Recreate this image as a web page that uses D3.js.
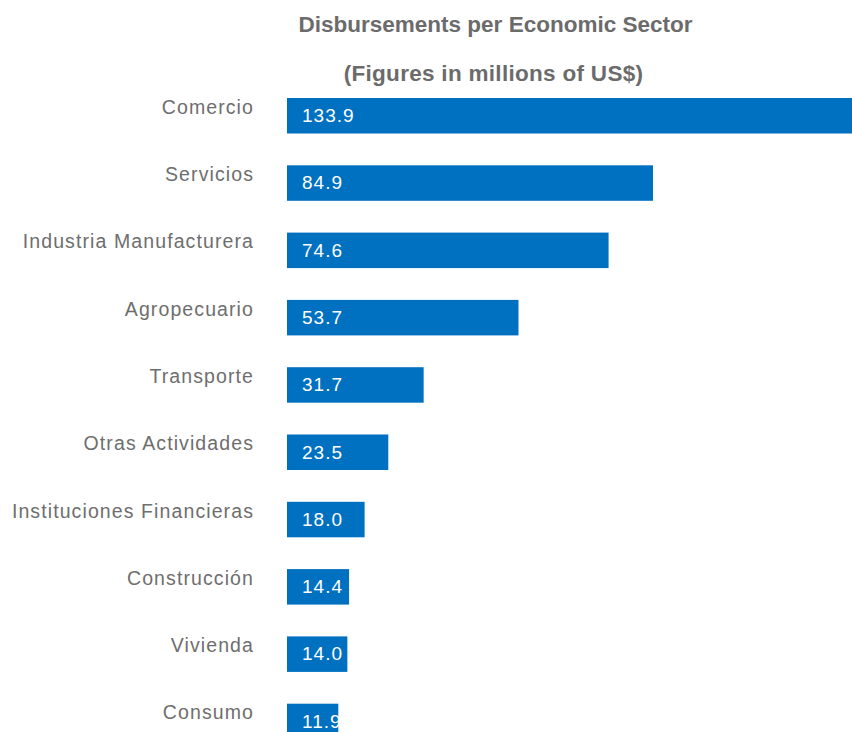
<!DOCTYPE html>
<html>
<head>
<meta charset="utf-8">
<script src="https://cdn.jsdelivr.net/npm/d3@7"></script>
<style>
  html, body { margin: 0; padding: 0; background: #ffffff; overflow: hidden; }
  svg { display: block; }
</style>
</head>
<body>
<div id="chart"></div>
<script>
// Disbursements by economic sector, millions of US$
const sectors = [
  "Comercio",
  "Servicios",
  "Industria Manufacturera",
  "Agropecuario",
  "Transporte",
  "Otras Actividades",
  "Instituciones Financieras",
  "Construcción",
  "Vivienda",
  "Consumo"
];
const amounts = [133.9, 84.9, 74.6, 53.7, 31.7, 23.5, 18.0, 14.4, 14.0, 11.9];
const titleLines = ["Disbursements per Economic Sector", "(Figures in millions of US$)"];

const width = 852, height = 732;
const barColor = "#0070c0";
const textGray = "#6e6e6e";

const svg = d3.select("#chart").append("svg")
  .attr("width", width)
  .attr("height", height);

const rows = sectors.map((s, i) => ({ sector: s, value: amounts[i] }));

const x = d3.scaleLinear().domain([0, 140]).range([287, 890.5]);
const y = d3.scaleBand()
  .domain(sectors)
  .range([82.1, 755.1])
  .paddingInner(0.4725)
  .paddingOuter(0.23625);

// Titles
svg.append("text")
  .attr("x", 495.5).attr("y", 32)
  .attr("text-anchor", "middle")
  .attr("font-family", "Liberation Sans, Arial, sans-serif")
  .attr("font-weight", "bold")
  .attr("font-size", 22.5)
  .attr("fill", "#6b6b6b")
  .text(titleLines[0]);

svg.append("text")
  .attr("x", 493.5).attr("y", 81)
  .attr("text-anchor", "middle")
  .attr("font-family", "Liberation Sans, Arial, sans-serif")
  .attr("font-weight", "bold")
  .attr("font-size", 22.5)
  .attr("letter-spacing", "0.3px")
  .attr("fill", "#6b6b6b")
  .text(titleLines[1]);

// Bars
svg.append("g").selectAll("rect")
  .data(rows)
  .join("rect")
  .attr("x", x(0))
  .attr("y", d => y(d.sector))
  .attr("width", d => x(d.value) - x(0))
  .attr("height", y.bandwidth())
  .attr("fill", barColor);

// Category labels on the left axis
const yAxis = d3.axisLeft(y).tickSize(0).tickPadding(0);
const axisG = svg.append("g")
  .attr("transform", "translate(254,0)")
  .call(yAxis);
axisG.select(".domain").remove();
axisG.selectAll("text")
  .attr("font-family", "Liberation Sans, Arial, sans-serif")
  .attr("font-size", 19.5)
  .attr("letter-spacing", "1.1px")
  .attr("fill", textGray)
  .attr("dy", null)
  .attr("y", -2);

// Value labels inside the bars
svg.append("g").selectAll("text")
  .data(rows)
  .join("text")
  .attr("x", x(0) + 15)
  .attr("y", d => y(d.sector) + y.bandwidth() / 2 + 6.3)
  .attr("font-family", "Liberation Sans, Arial, sans-serif")
  .attr("font-size", 19)
  .attr("letter-spacing", "1px")
  .attr("fill", "#ffffff")
  .text(d => d.value.toFixed(1));
</script>
</body>
</html>
